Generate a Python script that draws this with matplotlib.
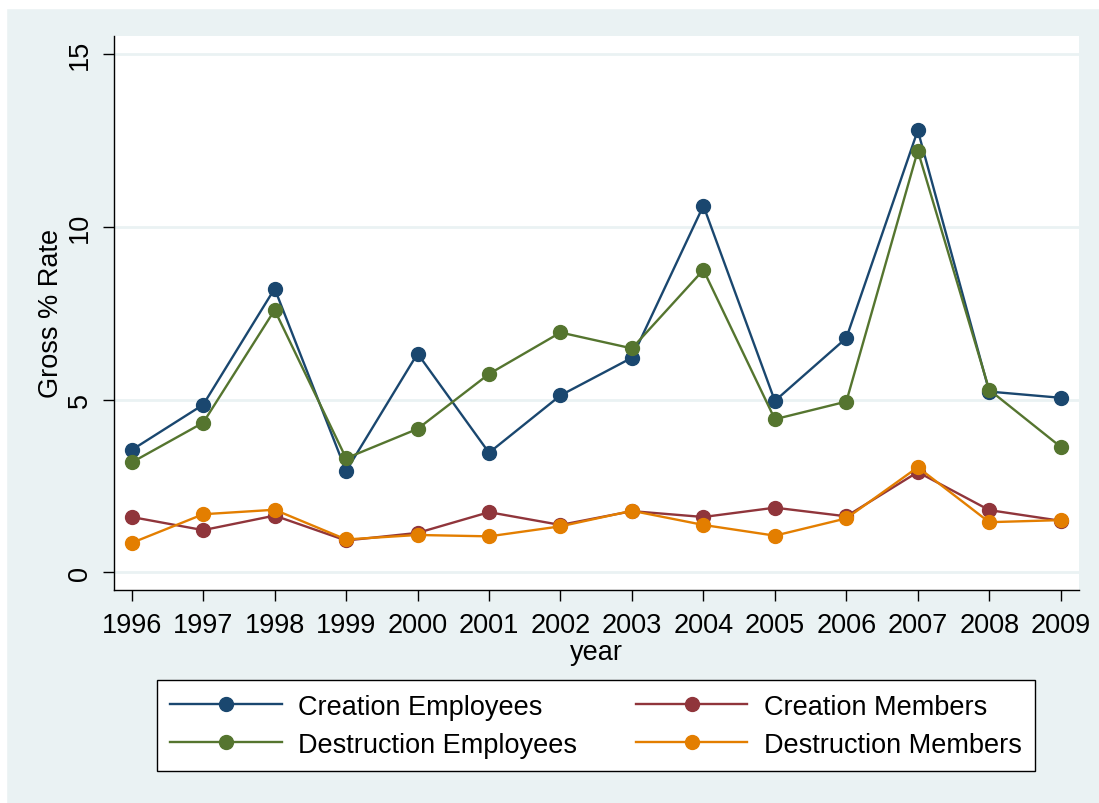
import matplotlib
matplotlib.use("Agg")
import matplotlib.pyplot as plt
from matplotlib.patches import Rectangle

plt.rcParams['font.family'] = ['Liberation Sans', 'DejaVu Sans']

years = [1996, 1997, 1998, 1999, 2000, 2001, 2002, 2003, 2004, 2005, 2006, 2007, 2008, 2009]
creation_emp = [3.54, 4.85, 8.21, 2.93, 6.33, 3.46, 5.12, 6.21, 10.61, 4.96, 6.78, 12.79, 5.23, 5.05]
creation_mem = [1.60, 1.22, 1.64, 0.92, 1.14, 1.74, 1.37, 1.77, 1.60, 1.87, 1.62, 2.90, 1.80, 1.49]
destruction_emp = [3.18, 4.33, 7.59, 3.30, 4.15, 5.74, 6.94, 6.48, 8.75, 4.43, 4.94, 12.20, 5.28, 3.63]
destruction_mem = [0.85, 1.68, 1.81, 0.95, 1.08, 1.04, 1.33, 1.78, 1.37, 1.06, 1.56, 3.04, 1.45, 1.51]
yticks = [0, 5, 10, 15]

bg = '#EAF2F3'
fs = 19.5
fig = plt.figure(figsize=(10.99, 8.04), dpi=100, facecolor=bg)
# thin white border at top and left like the original export
fig.patches.append(Rectangle((0, 1 - 9/804), 1, 9/804, transform=fig.transFigure, color='white', zorder=0))
fig.patches.append(Rectangle((0, 0), 6/1099, 1, transform=fig.transFigure, color='white', zorder=0))

ax = fig.add_axes([114/1099, 1 - 590.7/804, (1079 - 114)/1099, (590.7 - 36.7)/804])
ax.set_facecolor('white')

kw = dict(lw=1.7, marker='o', markersize=10)
l1, = ax.plot(years, creation_emp, color='#1A476F', label='Creation Employees', **kw)
l2, = ax.plot(years, creation_mem, color='#90353B', label='Creation Members', **kw)
l3, = ax.plot(years, destruction_emp, color='#55752F', label='Destruction Employees', **kw)
l4, = ax.plot(years, destruction_mem, color='#E37E00', label='Destruction Members', **kw)

ax.set_xlim(1995.752, 2009.256)
ax.set_ylim(-0.504, 15.53)
ax.set_xticks(years)
ax.set_yticks(yticks)
ax.set_yticklabels([str(v) for v in yticks], rotation=90, va='center')
ax.tick_params(axis='both', labelsize=fs, length=8, width=1, direction='out')
ax.tick_params(axis='x', pad=8)
ax.tick_params(axis='y', pad=7)
ax.grid(axis='y', color=bg, lw=2)
ax.set_axisbelow(True)
for s in ['top', 'right']:
    ax.spines[s].set_visible(False)
for s in ['left', 'bottom']:
    ax.spines[s].set_linewidth(1)
ax.set_xlabel('year', fontsize=fs, labelpad=1)
ax.set_ylabel('Gross % Rate', fontsize=fs, labelpad=2)

leg = fig.legend(handles=[l1, l3, l2, l4], ncol=2, loc='center',
                 bbox_to_anchor=((158 + 1034) / 2 / 1099, 1 - 726.7 / 804),
                 fontsize=fs, frameon=True, fancybox=False, edgecolor='black',
                 framealpha=1, facecolor='white',
                 handlelength=4.1, handletextpad=0.6, columnspacing=2.2,
                 labelspacing=0.45, borderpad=0.5, borderaxespad=0)
leg.get_frame().set_linewidth(1)

fig.savefig('out.png', dpi=100, facecolor=bg)
